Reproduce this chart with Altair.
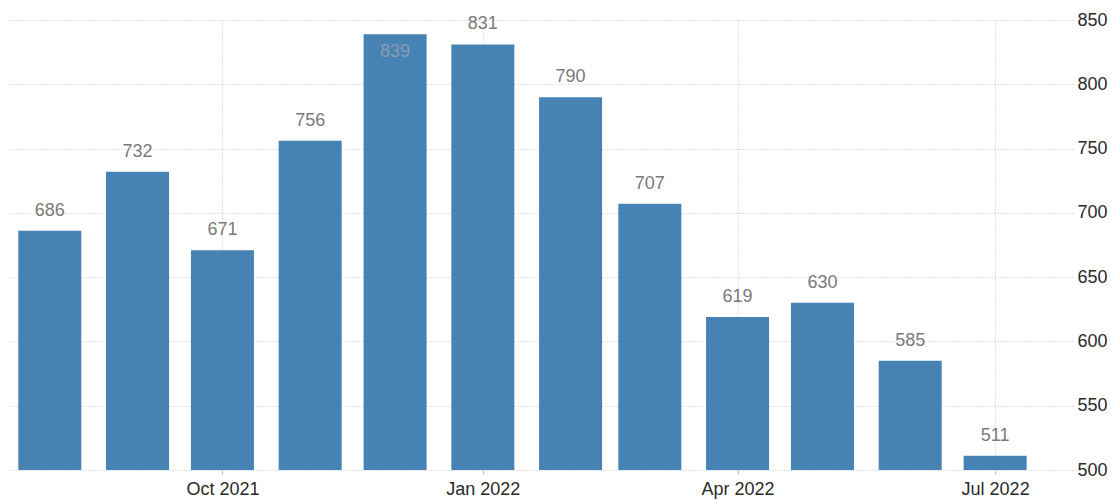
import altair as alt
import pandas as pd

months = ["2021-08-01", "2021-09-01", "2021-10-01", "2021-11-01", "2021-12-01", "2022-01-01",
          "2022-02-01", "2022-03-01", "2022-04-01", "2022-05-01", "2022-06-01", "2022-07-01"]
values = [686, 732, 671, 756, 839, 831, 790, 707, 619, 630, 585, 511]
y_ticks = [500, 550, 600, 650, 700, 750, 800, 850]
x_ticks = [(2021, 10), (2022, 1), (2022, 4), (2022, 7)]

df = pd.DataFrame({"month": months, "value": values})

xscale = alt.Scale(
    type="utc",
    domain=[alt.DateTime(year=2021, month=7, date=19, hours=0, utc=True),
            alt.DateTime(year=2022, month=7, date=26, hours=18, utc=True)],
)
yscale = alt.Scale(domain=[500, 850], nice=False, zero=False)

grid_color = "#c4c4c4"

x = alt.X(
    "month:T",
    scale=xscale,
    axis=alt.Axis(
        values=[alt.DateTime(year=yy, month=mm, date=1, utc=True) for yy, mm in x_ticks],
        labelExpr="utcFormat(datum.value, '%b %Y')",
        title=None,
        domain=False,
        grid=True,
        gridColor=grid_color,
        gridDash=[1, 2],
        ticks=True,
        tickColor="#bbbbbb",
        tickSize=4,
        labelFont="Liberation Sans",
        labelFontSize=18,
        labelColor="#2a2a2a",
        labelPadding=6,
    ),
)
y = alt.Y(
    "value:Q",
    scale=yscale,
    axis=alt.Axis(
        orient="right",
        values=y_ticks,
        title=None,
        domain=False,
        ticks=False,
        grid=True,
        gridColor=grid_color,
        gridDash=[1, 2],
        labelFont="Liberation Sans",
        labelFontSize=18,
        labelColor="#2a2a2a",
        labelPadding=4,
        labelAlign="left",
        labelBaseline="middle",
    ),
)

base = alt.Chart(df)

bars = base.mark_bar(color="#4682b4", width=63).encode(x=x, y=y, y2=alt.datum(500))

labels_out = base.transform_filter("datum.value < 835").mark_text(
    font="Liberation Sans", fontSize=18, color="#7a7a7a", baseline="middle", dy=-20
).encode(x=alt.X("month:T", scale=xscale), y=alt.Y("value:Q", scale=yscale), text="value:Q")

labels_in = base.transform_filter("datum.value >= 835").mark_text(
    font="Liberation Sans", fontSize=18, color="#8b9db2", baseline="middle", dy=18
).encode(x=alt.X("month:T", scale=xscale), y=alt.Y("value:Q", scale=yscale), text="value:Q")

chart = (
    alt.layer(bars, labels_out, labels_in)
    .properties(
        width=1065,
        height=450,
        autosize=alt.AutoSizeParams(type="none"),
        padding={"left": 8, "top": 20, "right": 44, "bottom": 30},
        background="white",
    )
    .configure_view(stroke=None)
)

chart.save("out.html", embed_options={"renderer": "svg", "actions": False})
